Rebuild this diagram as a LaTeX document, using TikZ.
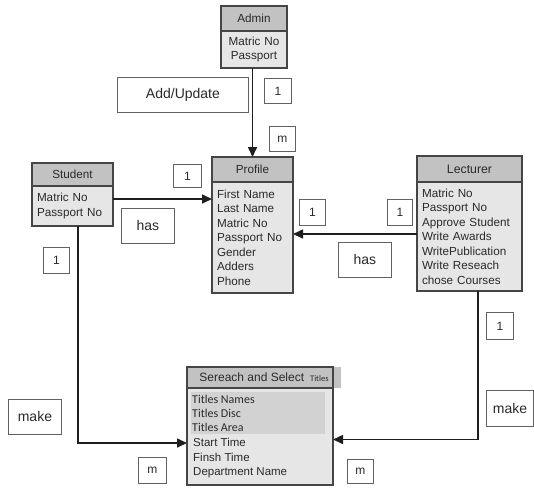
\documentclass[tikz,border=0pt]{standalone}
\usepackage{fontspec}
\setmainfont{Liberation Sans}
\newfontfamily\calib{Carlito}
\usetikzlibrary{arrows.meta}
\definecolor{hdr}{HTML}{C2C2C2}
\definecolor{bdy}{HTML}{E6E6E6}
\definecolor{hil}{HTML}{D2D2D2}
\definecolor{edge}{HTML}{454545}
\definecolor{ink}{HTML}{1E1E1E}
\definecolor{txt}{HTML}{2A2A2A}

\begin{document}
\begin{tikzpicture}[x=1pt,y=-1pt, every node/.style={text=txt},
  ent/.style={draw=edge, line width=1.3pt, anchor=north west, inner sep=0pt, outer sep=0pt},
  hd/.style={ent, fill=hdr, font=\fontsize{11.7}{13}\selectfont},
  bd/.style={ent, fill=bdy, inner xsep=5pt, align=left, font=\fontsize{11.7}{14.5}\selectfont},
  lbl/.style={draw=edge!85, line width=0.9pt, fill=white, anchor=north west, inner sep=0pt, font=\fontsize{14}{16}\selectfont},
  num/.style={lbl, font=\fontsize{12}{14}\selectfont},
  arr/.style={draw=ink, line width=1.6pt, -{Triangle[length=10pt,width=9pt]}}
]
\useasboundingbox (0,0) rectangle (534,488);

% entities
\node[hd, minimum width=66pt, minimum height=25pt] (admin) at (221,6) {Admin};
\node[bd, minimum width=66pt, minimum height=37pt, text width=56pt, align=center] (adminb) at (221,31) {Matric No\\Passport};

\node[hd, minimum width=81pt, minimum height=25pt] (profile) at (212,157) {Profile};
\node[bd, minimum width=81pt, minimum height=111pt, text width=71pt] (profileb) at (212,182)
  {First Name\\Last Name\\Matric No\\Passport No\\Gender\\Adders\\Phone};

\node[hd, minimum width=81pt, minimum height=23pt] (student) at (32,163) {Student};
\node[bd, minimum width=81pt, minimum height=40pt, text width=71pt] (studentb) at (32,186)
  {Matric No\\Passport No};

\node[hd, minimum width=105pt, minimum height=26pt, font=\fontsize{12.3}{14}\selectfont] (lecturer) at (417,156) {Lecturer};
\node[bd, minimum width=105pt, minimum height=109pt, text width=95pt] (lecturerb) at (417,182)
  {Matric No\\Passport No\\Approve Student\\Write Awards\\WritePublication\\Write Reseach\\chose Courses};

% search and select entity
\node[hd, draw=none, minimum width=154pt, minimum height=21pt, font=\fontsize{12}{14}\selectfont] (search) at (187,367)
  {Sereach and Select\hspace{6pt}{\calib\fontsize{8.5}{10}\selectfont Titles}};
\draw[edge, line width=1.3pt] (search.north west) rectangle ([xshift=-8pt]search.south east);
\node[ent, fill=bdy, minimum width=146pt, minimum height=97pt] (searchb) at (187,388) {};
\fill[hil] (191,392) rectangle (325,434);
\node[anchor=west, inner sep=0pt, align=left, font=\calib\fontsize{12}{14}\selectfont] (titles) at (192,413)
  {Titles Names\\Titles Disc\\Titles Area};
\node[anchor=west, inner sep=0pt, align=left, font=\fontsize{11.5}{14.5}\selectfont] (times) at (193,458.5)
  {Start Time\\Finsh Time\\Department Name};

% relationship labels
\node[lbl, minimum width=131pt, minimum height=35pt] (addupd) at (117,77) {Add/Update};
\node[num, minimum width=27pt, minimum height=25pt] (one1) at (264,78) {1};
\node[num, minimum width=26pt, minimum height=25pt] (m1) at (269,126) {m};
\node[num, minimum width=28pt, minimum height=23pt] (one2) at (173,164) {1};
\node[lbl, minimum width=53pt, minimum height=35pt] (has1) at (121,208) {has};
\node[num, minimum width=26pt, minimum height=26pt] (one3) at (299,199) {1};
\node[num, minimum width=25pt, minimum height=26pt] (one4) at (387,199) {1};
\node[lbl, minimum width=53pt, minimum height=35pt] (has2) at (338,242) {has};
\node[num, minimum width=26pt, minimum height=26pt] (one5) at (43,247) {1};
\node[num, minimum width=27pt, minimum height=27pt] (one6) at (486,312) {1};
\node[lbl, minimum width=53pt, minimum height=35pt] (make1) at (8,399) {make};
\node[lbl, minimum width=47pt, minimum height=36pt] (make2) at (486,390) {make};
\node[num, minimum width=28pt, minimum height=26pt] (m2) at (138,457) {m};
\node[num, minimum width=26pt, minimum height=24pt] (m3) at (347,459) {m};

% connectors
\draw[arr] (profile.north |- adminb.south) -- (profile.north);
\draw[arr] ([yshift=7pt]studentb.east) -- ([yshift=7pt]studentb.east -| profileb.west);
\draw[arr] ([yshift=2.5pt]lecturerb.west) -- ([yshift=2.5pt]lecturerb.west -| profileb.east);
\draw[arr] ([xshift=5.5pt]studentb.south) |- ([yshift=-6.5pt]searchb.west);
\draw[arr] ([xshift=8.5pt]lecturerb.south) |- ([yshift=-3pt]searchb.east);
\end{tikzpicture}
\end{document}
